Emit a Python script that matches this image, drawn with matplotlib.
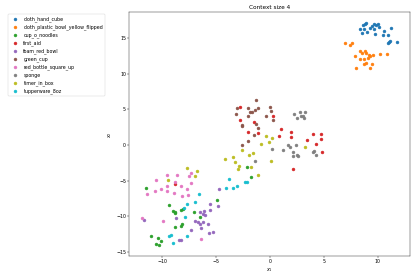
import matplotlib
matplotlib.use('Agg')
import matplotlib.pyplot as plt

# t-SNE punkty dla kazdego obiektu
labels = ['cloth_hand_cube', 'cloth_plastic_bowl_yellow_flipped', 'cup_o_noodles', 'first_aid',
          'foam_red_bowl', 'green_cup', 'red_bottle_square_up', 'sponge', 'timer_in_box', 'tupperware_8oz']

cloth_hand_cube_x = [8.64, 8.83, 8.95, 8.40, 8.77, 8.58, 9.01, 9.32, 9.51, 9.63, 9.88, 10.06,
                     10.12, 9.69, 9.75, 10.56, 10.49, 10.99, 11.23, 10.93, 11.05, 11.17, 11.79]
cloth_hand_cube_y = [16.92, 17.02, 17.11, 16.36, 16.36, 15.70, 15.89, 16.45, 16.74, 17.02, 16.92, 17.02,
                     16.64, 16.27, 15.61, 15.99, 15.42, 15.42, 16.45, 14.30, 14.48, 14.58, 14.48]

bowl_x = [6.98, 7.47, 7.59, 7.90, 8.40, 8.52, 8.83, 8.95, 9.20, 9.32, 9.14, 8.40, 8.70, 8.95,
          8.77, 9.51, 9.57, 10.19, 10.86, 8.02, 9.32]
bowl_y = [14.30, 14.01, 14.30, 12.51, 13.17, 12.98, 13.17, 12.89, 12.70, 12.51, 12.23, 12.04, 12.04, 11.48,
          11.38, 11.38, 12.70, 12.79, 12.79, 10.82, 10.82]

noodles_x = [-2.10, -1.73, -4.88, -11.54, -9.32, -9.01, -8.77, -8.83, -8.21, -8.02, -7.04, -6.48,
             -8.77, -8.21, -8.15, -11.05, -10.43, -10.12, -10.56, -10.31]
noodles_y = [-3.08, -4.48, -7.77, -5.99, -8.43, -9.27, -9.46, -9.55, -9.08, -8.99, -9.37, -10.12,
             -11.52, -11.34, -11.15, -12.75, -13.12, -13.50, -13.87, -14.06]

first_aid_x = [-2.81, -2.75, -1.45, 0.34, -2.07, -1.08, 1.08, 1.94, 2.01, 0.83, 3.43, 3.98,
               4.72, 4.78, 4.29, 4.85, 2.13, -8.83]
first_aid_y = [5.33, 3.54, 3.26, 4.11, 1.85, 1.67, 2.23, 1.76, 1.10, 1.20, 0.73, 1.57,
               1.57, 0.82, 0.07, -0.96, -3.40, -5.52]

foam_x = [-4.69, -5.56, -4.81, -5.56, -6.11, -6.23, -5.99, -6.48, -8.70, -6.91, -6.67, -6.48,
          -6.36, -6.17, -5.74, -7.35, -5.62, -5.31, -8.46, -8.27, -11.67]
foam_y = [-6.17, -8.24, -8.62, -9.18, -9.27, -9.65, -9.84, -9.46, -10.31, -10.68, -10.87, -11.15,
          -11.62, -10.87, -11.06, -11.99, -12.37, -12.18, -13.31, -13.31, -10.49]

green_cup_x = [-1.33, -3.06, -2.01, -1.14, -1.39, -1.88, -1.70, -3.12, -2.01, -0.03, 0.09, -0.34,
               0.34, -2.62, -2.56, -1.33, -1.14, -1.51, -2.01, -2.62]
green_cup_y = [6.27, 5.23, 5.23, 5.14, 4.86, 4.58, 4.58, 4.39, 4.01, 5.33, 4.77, 4.01,
               3.45, 2.79, 2.61, 2.98, 2.32, 1.38, 0.54, -0.02]

bottle_x = [-9.51, -8.58, -7.53, -7.35, -10.56, -9.51, -8.77, -8.27, -7.65, -7.28, -10.12, -10.68,
            -11.36, -9.51, -8.89, -8.15, -7.59, -11.85, -9.94, -6.42]
bottle_y = [-4.20, -4.20, -4.30, -3.92, -4.95, -5.80, -5.23, -5.80, -6.17, -5.33, -6.17, -6.46,
            -6.92, -6.46, -6.74, -7.21, -7.02, -10.31, -10.68, -13.22]

sponge_x = [2.25, 2.81, 3.24, 2.50, 2.93, 3.12, 3.18, 0.19, 1.23, 1.73, 1.85, 2.16, 2.16,
            2.53, 2.65, 2.41, 4.01, 4.14, 4.32, -1.42]
sponge_y = [4.39, 4.58, 4.58, 3.83, 4.01, 4.01, 3.73, -0.63, -0.73, -0.07, -0.26, -0.92, -1.57,
            -1.38, -1.57, -0.07, -1.01, -0.82, -1.38, -2.23]

timer_x = [-0.37, -0.06, 0.19, -0.86, -2.59, -1.98, -1.60, -3.46, -4.20, -3.21, -2.84, -2.96,
           0.12, -1.73, -1.11, 3.27, -7.72, -6.73, -6.91, -9.44]
timer_y = [1.24, 0.40, 0.96, 0.12, -0.73, -1.48, -1.10, -1.67, -1.95, -2.42, -2.98, -3.45,
           -2.23, -3.08, -4.20, -0.26, -3.26, -3.73, -4.30, -4.86]

tupper_x = [-3.83, -4.07, -3.46, -3.02, -2.28, -2.16, -6.60, -6.91, -7.65, -7.96, -7.90, -9.20,
            -9.38, -7.65, -9.01]
tupper_y = [-4.77, -6.08, -5.99, -5.80, -5.14, -5.23, -6.83, -7.96, -8.24, -8.90, -10.12, -12.65,
            -12.84, -12.84, -13.78]

xs = [cloth_hand_cube_x, bowl_x, noodles_x, first_aid_x, foam_x, green_cup_x, bottle_x, sponge_x, timer_x, tupper_x]
ys = [cloth_hand_cube_y, bowl_y, noodles_y, first_aid_y, foam_y, green_cup_y, bottle_y, sponge_y, timer_y, tupper_y]

fig = plt.figure(figsize=(12, 8), dpi=34.63)
ax = fig.add_axes([0.3116, 0.0758, 0.6739, 0.8798])

for x, y, name in zip(xs, ys, labels):
    ax.scatter(x, y, label=name)

ax.set_title('Context size 4')
ax.set_xlabel('$x_1$')
ax.set_ylabel('$x_2$')

fig.legend(loc='upper left', bbox_to_anchor=(8 / 415, 1 - 14 / 277), borderaxespad=0)

fig.savefig('out.png', dpi=34.63)
